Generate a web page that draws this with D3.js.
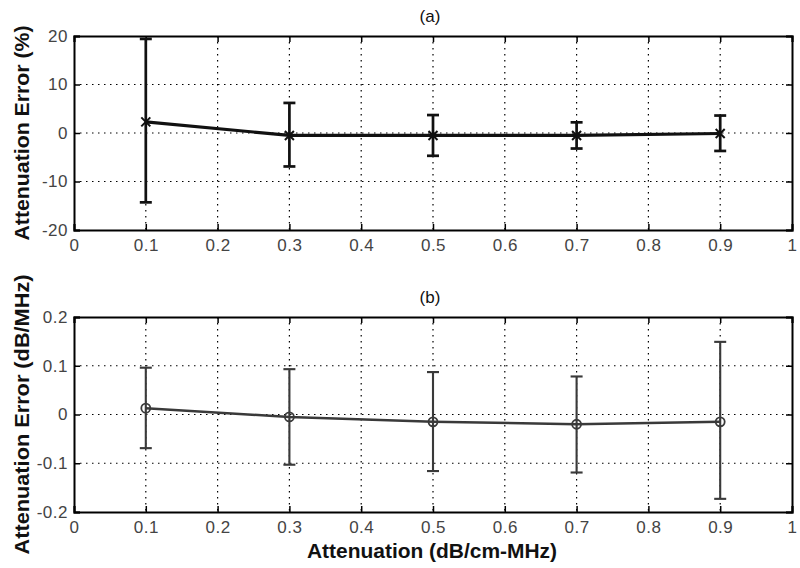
<!DOCTYPE html>
<html>
<head>
<meta charset="utf-8">
<script src="https://cdn.jsdelivr.net/npm/d3@7"></script>
<style>
  body { margin: 0; background: #fff; }
  svg { display: block; }
</style>
</head>
<body>
<div id="chart"></div>
<script>
// attenuation values (dB/cm-MHz)
const atten = [0.1, 0.3, 0.5, 0.7, 0.9];

// panel (a): error in percent
const errPct = [2.3, -0.5, -0.5, -0.5, -0.1];
const errPctHi = [19.4, 6.2, 3.7, 2.2, 3.6];
const errPctLo = [-14.3, -6.9, -4.7, -3.2, -3.7];

// panel (b): error in dB/MHz
const errDb = [0.013, -0.005, -0.015, -0.020, -0.015];
const errDbHi = [0.096, 0.093, 0.087, 0.078, 0.149];
const errDbLo = [-0.069, -0.103, -0.116, -0.119, -0.173];

const xTicks = [0, 0.1, 0.2, 0.3, 0.4, 0.5, 0.6, 0.7, 0.8, 0.9, 1];
const yTicksA = [-20, -10, 0, 10, 20];
const yTicksB = [-0.2, -0.1, 0, 0.1, 0.2];

const width = 800, height = 568;
const svg = d3.select('#chart').append('svg')
  .attr('width', width)
  .attr('height', height)
  .style('font-family', 'Arial, "Liberation Sans", sans-serif');

const left = 74, right = 792;
const x = d3.scaleLinear().domain([0, 1]).range([left, right]);

// plain hyphen minus like the original
const fmt = d => String(d);

function panel(opts) {
  const { top, bottom, yDomain, yTicks, mean, hi, lo, color, marker, ylabel, ylabelLen, title, lw } = opts;
  const y = d3.scaleLinear().domain(yDomain).range([bottom, top]);
  const g = svg.append('g');

  // dotted grid
  g.append('g').selectAll('line')
    .data(xTicks.slice(1, -1))
    .join('line')
    .attr('x1', d => x(d)).attr('x2', d => x(d))
    .attr('y1', top).attr('y2', bottom)
    .attr('stroke', '#000').attr('stroke-width', 1.2)
    .attr('stroke-dasharray', '1.5,4.5');
  g.append('g').selectAll('line')
    .data(yTicks.slice(1, -1))
    .join('line')
    .attr('x1', left).attr('x2', right)
    .attr('y1', d => y(d)).attr('y2', d => y(d))
    .attr('stroke', '#000').attr('stroke-width', 1.2)
    .attr('stroke-dasharray', '1.5,4.5');

  // axes with inward ticks on all sides
  const axB = g.append('g').attr('transform', `translate(0,${bottom})`)
    .call(d3.axisBottom(x).tickValues(xTicks).tickSize(-6).tickPadding(9).tickFormat(fmt));
  const axT = g.append('g').attr('transform', `translate(0,${top})`)
    .call(d3.axisTop(x).tickValues(xTicks).tickSize(-6).tickFormat(''));
  const axL = g.append('g').attr('transform', `translate(${left},0)`)
    .call(d3.axisLeft(y).tickValues(yTicks).tickSize(-6).tickPadding(6).tickFormat(fmt));
  const axR = g.append('g').attr('transform', `translate(${right},0)`)
    .call(d3.axisRight(y).tickValues(yTicks).tickSize(-6).tickFormat(''));
  [axB, axT, axL, axR].forEach(a => {
    a.attr('font-size', 17).attr('font-family', 'Arial, "Liberation Sans", sans-serif');
    a.select('.domain').attr('stroke', '#000').attr('stroke-width', 2);
    a.selectAll('.tick line').attr('stroke', '#000').attr('stroke-width', 1.5);
    a.selectAll('.tick text').attr('fill', '#444').style('letter-spacing', '0.5px');
  });

  const pts = atten.map((a, i) => ({ a, m: mean[i], hi: hi[i], lo: lo[i] }));

  // connecting line
  g.append('path')
    .datum(pts)
    .attr('d', d3.line().x(d => x(d.a)).y(d => y(d.m)))
    .attr('fill', 'none').attr('stroke', color).attr('stroke-width', lw);

  // error bars
  const eb = g.append('g').selectAll('g').data(pts).join('g');
  eb.append('line')
    .attr('x1', d => x(d.a)).attr('x2', d => x(d.a))
    .attr('y1', d => y(d.hi)).attr('y2', d => y(d.lo))
    .attr('stroke', color).attr('stroke-width', lw * 0.85);
  ['hi', 'lo'].forEach(k => {
    eb.append('line')
      .attr('x1', d => x(d.a) - 6).attr('x2', d => x(d.a) + 6)
      .attr('y1', d => y(d[k])).attr('y2', d => y(d[k]))
      .attr('stroke', color).attr('stroke-width', lw * 0.85);
  });

  // markers
  if (marker === 'x') {
    eb.append('path')
      .attr('d', d => {
        const cx = x(d.a), cy = y(d.m), r = 4.5;
        return `M${cx - r},${cy - r}L${cx + r},${cy + r}M${cx - r},${cy + r}L${cx + r},${cy - r}`;
      })
      .attr('stroke', color).attr('stroke-width', 2);
  } else {
    eb.append('circle')
      .attr('cx', d => x(d.a)).attr('cy', d => y(d.m)).attr('r', 4.5)
      .attr('fill', 'none').attr('stroke', color).attr('stroke-width', 1.8);
  }

  // y label
  svg.append('text')
    .attr('transform', `translate(29,${(top + bottom) / 2}) rotate(-90)`)
    .attr('text-anchor', 'middle')
    .attr('textLength', ylabelLen).attr('lengthAdjust', 'spacingAndGlyphs')
    .style('font-size', '21px').style('font-weight', 'bold').attr('fill', '#111')
    .text(ylabel);

  // panel title
  svg.append('text')
    .attr('x', 430).attr('y', top - 14)
    .attr('text-anchor', 'middle')
    .style('font-size', '17px').attr('fill', '#111')
    .text(title);
}

panel({
  top: 36, bottom: 230, yDomain: [-20, 20], yTicks: yTicksA,
  mean: errPct, hi: errPctHi, lo: errPctLo, color: '#111', marker: 'x',
  ylabel: 'Attenuation Error (%)', ylabelLen: 215, title: '(a)', lw: 3.2
});

panel({
  top: 317, bottom: 512, yDomain: [-0.2, 0.2], yTicks: yTicksB,
  mean: errDb, hi: errDbHi, lo: errDbLo, color: '#3a3a3a', marker: 'o',
  ylabel: 'Attenuation Error (dB/MHz)', ylabelLen: 280, title: '(b)', lw: 2.5
});

// x label
svg.append('text')
  .attr('x', 432).attr('y', 558)
  .attr('text-anchor', 'middle')
  .attr('textLength', 250).attr('lengthAdjust', 'spacingAndGlyphs')
  .style('font-size', '20px').style('font-weight', 'bold').attr('fill', '#111')
  .text('Attenuation (dB/cm-MHz)');
</script>
</body>
</html>
